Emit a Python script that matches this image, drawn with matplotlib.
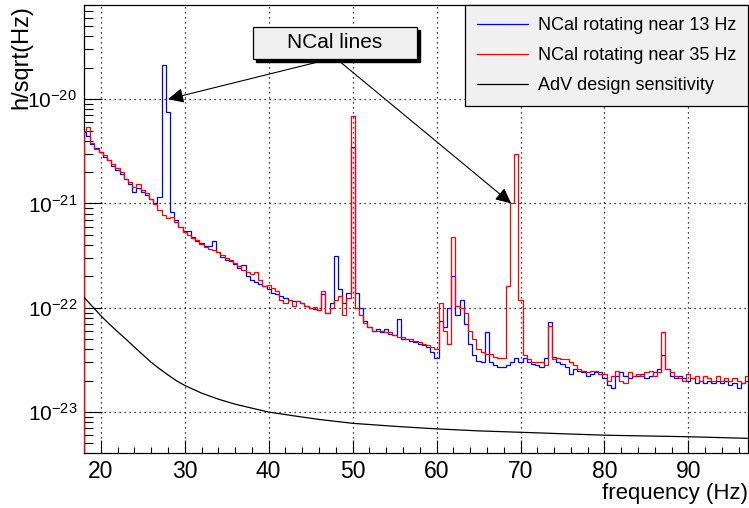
import numpy as np
import matplotlib
matplotlib.use('Agg')
from matplotlib import pyplot as plt
from matplotlib.patches import Rectangle
from matplotlib.ticker import LogLocator, NullFormatter, MultipleLocator

"""--------------------------------- Data ---------------------------------"""

# bin centres of the spectra (Hz), 0.5 Hz wide bins
freq = np.arange(18.0, 97.5, 0.5)

# amplitude spectral densities in units of 1e-22 / sqrt(Hz), rows of 5 Hz
asd_13hz = [48, 44, 37, 34, 31, 28, 26, 23, 21, 19,
            17, 15.5, 13, 14, 13, 12, 11, 10, 11.5, 213,
            75, 8.2, 7.0, 6.0, 5.5, 5.4, 4.8, 4.4, 4.2, 3.9,
            3.9, 4.4, 3.4, 3.1, 2.9, 2.8, 2.6, 2.4, 2.55, 2.0,
            1.85, 1.75, 1.7, 1.6, 1.5, 1.4, 1.35, 1.3, 1.25, 1.2,
            1.15, 1.15, 1.1, 1.05, 1.0, 0.98, 0.95, 1.35, 0.9, 1.1,
            3.15, 1.5, 1.1, 1.4, 35, 1.4, 1.0, 0.75, 0.65, 0.6,
            0.62, 0.58, 0.62, 0.56, 0.55, 0.78, 0.5, 0.5, 0.48, 0.47,
            0.45, 0.44, 0.42, 0.38, 0.33, 0.75, 0.65, 1.0, 2.0, 0.85,
            1.2, 0.7, 0.45, 0.35, 0.31, 0.3, 0.58, 0.3, 0.28, 0.27,
            0.27, 0.28, 0.3, 0.33, 0.3, 0.33, 0.3, 0.29, 0.28, 0.27,
            0.33, 0.73, 0.34, 0.3, 0.29, 0.27, 0.23, 0.26, 0.25, 0.24,
            0.22, 0.23, 0.24, 0.24, 0.21, 0.18, 0.17, 0.22, 0.24, 0.22,
            0.21, 0.22, 0.22, 0.23, 0.21, 0.22, 0.24, 0.26, 0.35, 0.26,
            0.22, 0.21, 0.22, 0.21, 0.2, 0.21, 0.19, 0.2, 0.19, 0.2,
            0.19, 0.2, 0.19, 0.2, 0.18, 0.19, 0.17, 0.19, 0.2]

asd_35hz = [50, 54, 38, 33, 31, 29, 26, 24, 22, 20,
            17, 16, 14.5, 15.5, 13.5, 12.5, 11, 9.8, 8.6, 7.8,
            7.2, 7.5, 6.6, 6.0, 5.3, 5.0, 4.7, 4.5, 4.1, 3.8,
            3.7, 3.6, 3.4, 3.2, 3.0, 2.9, 2.7, 2.5, 2.3, 2.2,
            2.1, 2.2, 1.85, 1.6, 1.65, 1.55, 1.45, 1.2, 1.1, 1.2,
            1.05, 1.15, 1.1, 1.05, 1.0, 1.02, 0.95, 1.45, 0.9, 1.0,
            1.2, 1.3, 0.85, 1.25, 69, 1.0, 0.85, 0.72, 0.65, 0.6,
            0.6, 0.6, 0.58, 0.58, 0.55, 0.52, 0.52, 0.5, 0.5, 0.48,
            0.47, 0.45, 0.44, 0.42, 0.4, 1.1, 0.6, 0.45, 4.8, 1.05,
            1.0, 0.9, 0.6, 0.5, 0.4, 0.38, 0.36, 0.36, 0.34, 0.33,
            0.33, 1.6, 10, 29.7, 1.2, 0.35, 0.32, 0.3, 0.3, 0.3,
            0.28, 0.67, 0.32, 0.33, 0.32, 0.32, 0.3, 0.28, 0.26, 0.25,
            0.24, 0.25, 0.25, 0.23, 0.23, 0.2, 0.22, 0.25, 0.2, 0.19,
            0.24, 0.22, 0.23, 0.22, 0.24, 0.25, 0.22, 0.24, 0.59, 0.26,
            0.24, 0.22, 0.21, 0.2, 0.23, 0.21, 0.22, 0.2, 0.22, 0.21,
            0.2, 0.22, 0.2, 0.21, 0.2, 0.21, 0.2, 0.19, 0.22]

# AdV design sensitivity, same units
design_freq = [18, 19, 20, 21, 22, 23, 24, 25, 26, 27, 28, 29, 30, 32, 34,
               36, 38, 40, 43, 46, 50, 55, 60, 65, 70, 80, 90, 97]
design_asd = [1.26, 1.03, 0.84, 0.70, 0.59, 0.50, 0.42, 0.355, 0.30, 0.26,
              0.227, 0.20, 0.18, 0.152, 0.133, 0.119, 0.109, 0.1, 0.092,
              0.085, 0.078, 0.073, 0.069, 0.066, 0.064, 0.06, 0.058, 0.056]

scale = 1e-22
labels = ['NCal rotating near 13 Hz', 'NCal rotating near 35 Hz',
          'AdV design sensitivity']
decades = [1e-23, 1e-22, 1e-21, 1e-20]

"""------------------------------- Plotting -------------------------------"""

plt.rcParams['font.family'] = 'Liberation Sans'
plt.rcParams['mathtext.fontset'] = 'custom'
plt.rcParams['mathtext.rm'] = 'Liberation Sans'
plt.rcParams['mathtext.default'] = 'regular'

edges = np.append(freq - 0.25, freq[-1] + 0.25)
edges[0] = 18.0

fig = plt.figure(figsize=(7.49, 5.08), dpi=100)
ax = fig.add_axes([84 / 749, 55 / 508, 664 / 749, 448 / 508])

ax.stairs(np.array(asd_13hz) * scale, edges, color='#0000ff', lw=0.9,
          baseline=1e-30, zorder=3, label=labels[0])
ax.stairs(np.array(asd_35hz) * scale, edges, color='#ff0000', lw=0.9,
          baseline=1e-30, zorder=3, label=labels[1])
ax.plot(design_freq, np.array(design_asd) * scale, color='black', lw=0.9,
        zorder=3, label=labels[2])

ax.set_yscale('log')
ax.set_xlim(18, 97.1)
ax.set_ylim(4.05e-24, 8e-20)

ax.xaxis.set_major_locator(MultipleLocator(10))
ax.xaxis.set_minor_locator(MultipleLocator(2))
ax.set_yticks(decades)
ax.yaxis.set_minor_locator(LogLocator(base=10, subs=np.arange(2, 10)))
ax.yaxis.set_minor_formatter(NullFormatter())

ax.tick_params(which='both', direction='in', top=False, right=False)
ax.tick_params(axis='x', which='major', length=9.5, width=0.8, pad=5,
               labelsize=16.5)
ax.tick_params(axis='x', which='minor', length=4.5, width=0.8)
ax.tick_params(axis='y', which='major', length=13, width=0.8, pad=5,
               labelsize=15)
ax.tick_params(axis='y', which='minor', length=6.5, width=0.8)
for s in ax.spines.values():
    s.set_linewidth(0.9)

ax.grid(True, which='major', color='black', linestyle=(0, (1, 3)), lw=0.9)

ax.set_xlabel('frequency (Hz)', fontsize=16, loc='right')
ax.xaxis.set_label_coords(1.0, -0.066)
ax.set_ylabel('h/sqrt(Hz)', fontsize=17, loc='top')
ax.yaxis.set_label_coords(-0.077, 1.0)

leg = ax.legend(loc='upper right', bbox_to_anchor=(1.0, 1.0),
                borderaxespad=0, fontsize=13, fancybox=False,
                edgecolor='black', facecolor='#f0f0f0', framealpha=1,
                handlelength=2.8, handletextpad=0.55, labelspacing=0.72,
                borderpad=0.66)
leg.get_frame().set_linewidth(0.9)
leg.set_zorder(5)

# "NCal lines" label box with shadow
fig.add_artist(Rectangle((255.7 / 749, (508 - 62) / 508), 164 / 749,
                         32 / 508, transform=fig.transFigure,
                         facecolor='black', edgecolor='black', zorder=6))
fig.add_artist(Rectangle((252.7 / 749, (508 - 59) / 508), 164 / 749,
                         32 / 508, transform=fig.transFigure,
                         facecolor='#f0f0f0', edgecolor='black', lw=0.9,
                         zorder=7))
fig.text(334.7 / 749, (508 - 43) / 508, 'NCal lines', fontsize=15,
         ha='center', va='center', zorder=8)

arrow = dict(arrowstyle='-|>,head_length=0.95,head_width=0.45',
             mutation_scale=10, color='black', lw=0.8,
             shrinkA=0, shrinkB=0)
ax.annotate('', xy=(28.0, 1.0e-20), xycoords='data',
            xytext=(330 / 749, (508 - 59) / 508),
            textcoords='figure fraction', arrowprops=arrow, zorder=6)
ax.annotate('', xy=(68.9, 1.0e-21), xycoords='data',
            xytext=(336.7 / 749, (508 - 59) / 508),
            textcoords='figure fraction', arrowprops=arrow, zorder=6)

fig.savefig('out.png', dpi=100)
